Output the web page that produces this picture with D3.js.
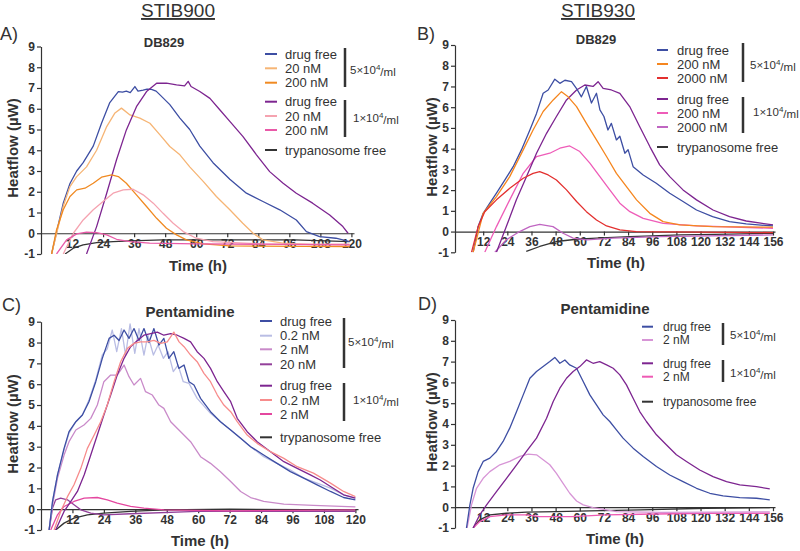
<!DOCTYPE html>
<html>
<head>
<meta charset="utf-8">
<title>Heatflow of trypanosome cultures</title>
<script src="https://d3js.org/d3.v7.min.js"></script>
<style>
  body { margin: 0; background: #fff; }
  svg { font-family: "Liberation Sans", Arial, sans-serif; }
  .axis path, .axis line { stroke: #333; stroke-width: 1.2; }
  .axis text { font-size: 12px; font-weight: bold; fill: #333; }
  .plot { fill: none; stroke-width: 1.3; stroke-linejoin: round; }
  .legend text { fill: #333; }
  .density { font-size: 11.5px; fill: #333; }
  .ylab, .xlab { font-size: 15px; font-weight: bold; fill: #333; }
</style>
</head>
<body>
<svg id="chart" width="800" height="551"></svg>
<script>
// ---- data: [time (h), heatflow (µW)] ----
// A) STIB900, DB829
var aFree5 = [[4.1,-1],[8.6,1.45],[11.2,2.4],[13.8,3.0],[16.3,3.4],[20.2,4.2],[23.4,5.3],[26.6,6.3],[29.9,6.83],[31.5,6.8],[33,6.85],[34.5,6.78],[36.3,7.07],[37.5,6.85],[39.5,6.9],[41,6.95],[42.7,6.93],[44.5,6.85],[46,6.67],[49.8,6.2],[53.7,5.55],[57.5,5.0],[61.4,4.2],[66.5,3.4],[73,2.6],[79.4,1.93],[85.8,1.53],[92.3,1.13],[98.7,0.64],[102.6,0.08],[107.7,-0.16],[114,-0.24],[119.3,-0.4]];
var a20nm5 = [[4.1,-1],[8.6,1.3],[11.2,2.25],[13.8,2.73],[17.6,3.2],[21.5,4.0],[25.4,5.14],[28.6,5.8],[31.1,6.03],[34.4,5.7],[38.2,5.55],[42.1,5.3],[46,4.74],[49.8,4.18],[53.7,3.78],[57.5,3.2],[62.7,2.5],[67.8,1.77],[73,1.13],[78,0.48],[82,0],[85.8,-0.32],[93.5,-0.48],[106,-0.56],[119.3,-0.56]];
var a200nm5 = [[4.1,-1],[6,0.16],[8.6,1.13],[11.2,1.77],[13.8,2.09],[17,2.17],[20.2,2.41],[23.4,2.7],[27.3,2.81],[29.9,2.73],[33,2.41],[36.9,1.85],[40.8,1.29],[44.7,0.72],[48.5,0.24],[52.4,-0.08],[56.2,-0.32],[62.7,-0.51],[73,-0.61],[119.3,-0.64]];
var aFree1 = [[17.6,-1],[21.5,0.32],[25.4,1.93],[29.2,3.54],[33,4.98],[36.9,6.1],[40.8,6.83],[44.7,7.23],[48.5,7.23],[52.4,7.15],[55.5,7.1],[56.9,7.32],[58,7.07],[61.4,6.83],[65.3,6.5],[69.1,5.95],[73,5.39],[78.1,4.66],[83.3,3.78],[88.4,2.97],[93.6,2.41],[98.7,1.93],[105,1.45],[111.6,0.88],[116.7,0.32],[118.7,0]];
var a20nm1 = [[8.6,-1],[12.5,0],[16.3,0.64],[20.2,1.13],[24,1.53],[27.9,1.93],[31.8,2.09],[35.6,2.12],[39.5,1.85],[43.4,1.45],[47.2,0.96],[51.1,0.48],[55,0.08],[60,-0.24],[66.5,-0.4],[85,-0.51],[119.3,-0.53]];
var a200nm1 = [[6,-1],[9.9,-0.32],[13.8,-0.03],[17.6,0.05],[21.5,0.03],[25.4,-0.08],[29.2,-0.29],[34.4,-0.4],[42,-0.48],[60,-0.51],[119.3,-0.56]];
var aTryp = [[9.3,-1],[12.5,-0.72],[16.3,-0.56],[21.5,-0.45],[27.9,-0.4],[34.4,-0.37],[47,-0.32],[73,-0.32],[98,-0.32],[119.3,-0.4]];

// B) STIB930, DB829
var bFree5 = [[7,-1],[9.5,0.24],[12,0.88],[15.3,1.37],[18.6,1.85],[22.8,2.49],[26.9,3.13],[31,3.94],[35.2,4.9],[38.5,5.7],[41.8,6.67],[44.3,6.83],[47.6,7.35],[50.1,7.15],[52.6,7.3],[55.9,7.23],[58.4,6.9],[60.8,6.5],[63.3,7.0],[65.8,6.2],[68.3,6.67],[70,5.87],[72,5.55],[74,4.9],[75.7,5.22],[78.2,4.42],[79.9,4.6],[82.4,3.78],[84,3.95],[86.5,3.13],[91.5,2.73],[98,2.33],[104.7,1.85],[111.3,1.45],[118,1.04],[126,0.72],[134.4,0.48],[142.7,0.37],[156,0.27]];
var b200nm5 = [[7,-1],[12,0.88],[18.6,1.69],[25.2,2.65],[31.9,3.94],[36.8,4.9],[41.8,5.79],[46.8,6.35],[50.9,6.75],[54.2,6.5],[58.4,6.03],[63.3,5.22],[68.3,4.42],[73.3,3.62],[78.2,2.81],[83.2,2.17],[88.2,1.53],[94.8,0.88],[101.4,0.48],[109.7,0.32],[126,0.24],[156,0.21]];
var b2000nm5 = [[6.2,-1],[9.5,0.24],[12.8,0.96],[18.6,1.53],[25.2,2.09],[31.9,2.57],[36.8,2.81],[40.1,2.89],[44.3,2.73],[48.4,2.49],[53.4,2.01],[58.4,1.45],[63.3,0.96],[68.3,0.56],[73.3,0.27],[79.9,0.08],[88,0],[156,-0.05]];
var bFree1 = [[18.6,-1],[23.5,0.24],[28.5,1.53],[33.5,2.65],[38.5,3.78],[43.5,4.74],[48.4,5.55],[53.4,6.35],[58.4,6.83],[62.5,7.07],[66.6,7.0],[69.1,7.23],[71.6,6.91],[75.7,6.83],[79.9,6.67],[84.8,6.03],[89.8,5.06],[94.8,4.1],[99.7,3.22],[104.7,2.65],[111.3,2.01],[118,1.53],[126.2,1.04],[134.4,0.72],[142.7,0.51],[156,0.32]];
var b200nm1 = [[12.8,-1],[18.6,0.24],[25.2,1.53],[31.9,2.81],[38.5,3.62],[45.1,3.78],[50.1,4.02],[55,4.13],[60,3.86],[65,3.3],[70,2.65],[74.9,2.01],[79.9,1.37],[84.9,0.96],[91.5,0.64],[101.4,0.4],[118,0.27],[156,0.16]];
var b2000nm1 = [[17.8,-1],[23.5,-0.4],[30.1,0],[35.2,0.24],[40.1,0.35],[43,0.3],[46.7,0.24],[51.7,-0.08],[56.7,-0.32],[63.3,-0.4],[76.6,-0.32],[100,-0.24],[156,-0.16]];
var bTryp = [[33.4,-0.96],[40.1,-0.72],[48.4,-0.48],[58.4,-0.37],[68.3,-0.32],[84.8,-0.24],[110,-0.16],[135,-0.12],[156,-0.08]];

// C) STIB900, pentamidine
var cFree5 = [[3.1,-1],[4.4,0.37],[6.3,1.65],[8.8,2.92],[10.7,3.72],[13.3,4.2],[15.8,4.52],[18.3,5.16],[20.9,6.12],[23.4,7.24],[26,8.2],[27.9,8.35],[29.8,8.1],[31.7,8.6],[33.6,8.2],[35.5,8.67],[37.4,8.1],[39.3,8.67],[41.2,8.0],[43.1,8.67],[45,7.88],[46.9,8.2],[48.8,7.24],[50.7,7.56],[52.6,6.76],[54.6,6.92],[56.5,6.12],[58.4,5.96],[60.9,5.32],[64.7,4.68],[68.5,4.2],[72.4,3.8],[76.2,3.4],[80,3.0],[85,2.6],[90.1,2.2],[95.2,1.8],[100.3,1.49],[105.4,1.17],[110.5,0.85],[115.5,0.56],[120,0.45]];
var c02nm5 = [[3.1,-1],[4.4,0.37],[6.3,1.65],[8.8,2.85],[10.7,3.65],[13.3,4.2],[15.8,4.52],[18.3,5.24],[20.9,6.2],[23.4,7.4],[25.3,7.7],[27.2,8.6],[28.9,7.56],[30.7,8.67],[32.3,7.4],[34,8.9],[35.8,7.48],[37.4,8.67],[39.3,7.4],[40.8,8.35],[42.9,7.4],[44.7,7.88],[46.7,7.24],[48.5,7.56],[50.5,6.6],[52.3,6.92],[54.3,6.12],[56.5,6.04],[59.6,5.32],[64.7,4.6],[68.5,4.2],[72.4,3.8],[76.2,3.4],[80,3.0],[85,2.52],[90.1,2.2],[95.2,1.88],[100.3,1.49],[105.4,1.25],[110.5,1.01],[115.5,0.69],[120,0.53]];
var c2nm5 = [[3.1,-1],[4.4,0.21],[6.3,1.49],[8.8,2.6],[10.7,3.24],[13.3,3.8],[16.4,4.04],[19,4.36],[21.5,5.0],[24,6.12],[26.6,6.44],[29.1,6.44],[31.7,6.92],[33.6,6.36],[35.5,5.96],[38,6.28],[39.9,5.64],[42.5,5.48],[45,5.0],[46.9,4.84],[49.5,4.2],[53.3,3.72],[57.1,3.24],[60.9,2.52],[64.7,2.2],[68.5,1.8],[72.4,1.33],[76.2,0.85],[80,0.56],[85,0.37],[92.7,0.24],[104,0.18],[120,0.11]];
var c20nm5 = [[3.1,-1],[4.4,0.05],[5.6,0.45],[7.5,0.53],[10.1,0.45],[12.6,0.21],[15.2,-0.03],[19,-0.19],[24,-0.27],[34.2,-0.22],[59.6,-0.11],[120,-0.11]];
var cFree1 = [[5.6,-1],[8.8,-0.11],[11.4,0.37],[13.9,0.85],[16.5,1.65],[19,2.6],[21.5,3.56],[24,4.52],[26.6,5.48],[29.1,6.44],[31.7,7.24],[34.2,7.8],[36.8,8.1],[39.3,8.35],[41.9,8.43],[44.4,8.5],[46.9,8.35],[49.5,8.43],[52,8.35],[54.6,8.2],[57.1,8.03],[59.6,7.56],[62.2,7.24],[64.7,6.76],[67.3,6.12],[69.8,5.64],[72.4,5.16],[74.9,4.36],[78.7,3.72],[82.5,3.24],[87.6,2.76],[92.7,2.28],[97.8,1.96],[102.8,1.65],[106.6,1.4],[110.5,1.09],[115.5,0.69],[120,0.53]];
var c02nm1 = [[5,-1],[7.5,-0.11],[10.1,0.6],[12.6,1.17],[15.2,1.96],[17.7,2.92],[20.3,3.56],[22.8,4.2],[25.3,5.0],[27.9,6.12],[30.4,7.08],[33,7.72],[35.5,7.96],[38,8.03],[40.6,8.03],[43.1,8.1],[45.7,7.96],[48.2,8.03],[50.7,8.5],[52.7,8.03],[54.6,7.8],[57.1,7.4],[59.6,7.08],[62.2,6.52],[64.7,6.12],[67.3,5.48],[69.8,5.0],[72.4,4.68],[74.9,4.2],[78.7,3.56],[82.5,3.16],[87.6,2.76],[92.7,2.44],[97.8,2.04],[104,1.73],[110.5,1.25],[115.5,0.85],[120,0.6]];
var c2nm1 = [[3.7,-1],[6.3,-0.27],[8.8,0.13],[12.6,0.37],[16.5,0.53],[21.5,0.56],[25.3,0.45],[29.1,0.29],[34.2,0.13],[39.3,0.05],[47,-0.03],[72,-0.08],[120,-0.03]];
var cTryp = [[5.6,-1],[8.8,-0.67],[12.6,-0.43],[17.7,-0.27],[24,-0.19],[34.2,-0.11],[47,-0.03],[72,0],[120,-0.03]];

// D) STIB930, pentamidine
var dFree5 = [[3.7,-1],[5.4,0.11],[7,0.91],[9.5,1.71],[12,2.2],[15.3,2.36],[18.6,2.68],[21.9,3.16],[25.2,3.8],[28.6,4.6],[31.9,5.4],[35.2,6.2],[38.5,6.52],[41.8,6.76],[45.1,7.0],[47.6,7.2],[50.1,6.92],[52.6,7.08],[55,6.84],[58.4,6.68],[61.7,6.04],[65,5.4],[68.3,4.92],[71.6,4.44],[74.9,4.12],[78.2,3.72],[81.5,3.32],[86.5,2.84],[91.5,2.44],[98.1,1.96],[104.7,1.55],[111.3,1.23],[118,0.91],[124.6,0.67],[131.2,0.54],[139.5,0.46],[147.8,0.43],[154.4,0.35]];
var d2nm5 = [[4,-1],[6.2,0.11],[8.7,0.91],[12,1.39],[15.3,1.71],[20.3,2.04],[25.2,2.2],[30.2,2.44],[34.4,2.55],[38.5,2.52],[41.8,2.28],[45.1,2.04],[48.4,1.63],[51.7,1.15],[55,0.67],[58.4,0.3],[61.7,0.11],[66.6,-0.02],[73.3,-0.13],[78.2,-0.21],[100,-0.25],[154.4,-0.22]];
var dFree1 = [[7,-1],[10.3,-0.37],[13.7,0.11],[18.6,0.75],[23.6,1.39],[28.6,2.04],[33.5,2.68],[38.5,3.32],[43.5,4.28],[46.8,5.08],[50.1,5.72],[53.4,6.2],[56.7,6.52],[60,6.76],[63.3,7.08],[66.6,6.92],[69.9,7.0],[73.3,6.84],[76.6,6.68],[79.9,6.36],[83.2,5.88],[86.5,5.24],[89.8,4.6],[93.1,4.12],[98.1,3.48],[103,3.0],[108,2.52],[113,2.2],[119.6,1.79],[126.2,1.47],[132.9,1.23],[139.5,1.07],[147.8,0.99],[154.4,0.88]];
var d2nm1 = [[7,-1],[10.3,-0.69],[15.3,-0.45],[23.6,-0.37],[33.5,-0.37],[40,-0.45],[56,-0.45],[73,-0.37],[90,-0.34],[123,-0.29],[154.4,-0.29]];
var dTryp = [[7,-1],[10.3,-0.61],[15.3,-0.37],[23.6,-0.29],[33.5,-0.24],[48.4,-0.21],[65,-0.18],[90,-0.13],[123,-0.05],[154.4,-0.02]];

// tick labels
var yTicks = [-1, 0, 1, 2, 3, 4, 5, 6, 7, 8, 9];
var xTicks120 = [12, 24, 36, 48, 60, 72, 84, 96, 108, 120];
var xTicks156 = [12, 24, 36, 48, 60, 72, 84, 96, 108, 120, 132, 144, 156];

// legend labels
var legendA = ["drug free", "20 nM", "200 nM", "drug free", "20 nM", "200 nM", "trypanosome free"];
var legendB = ["drug free", "200 nM", "2000 nM", "drug free", "200 nM", "2000 nM", "trypanosome free"];
var legendC = ["drug free", "0.2 nM", "2 nM", "20 nM", "drug free", "0.2 nM", "2 nM", "trypanosome free"];
var legendD = ["drug free", "2 nM", "drug free", "2 nM", "trypanosome free"];

// colours
var blue = "#3d4ea3", purple = "#7d2590", black = "#333333";

var panels = [
  { letter: "A)", strain: "STIB900", drug: "DB829",
    series: [aFree5, a20nm5, a200nm5, aFree1, a20nm1, a200nm1, aTryp],
    colors: [blue, "#f6b575", "#f08a22", purple, "#f5a3b0", "#e95aa8", black],
    drawOrder: [6, 0, 1, 3, 2, 4, 5],
    labels: legendA, ticks: xTicks120,
    xDomain: [0, 121], xRange: [41, 354], yRange: [254, 46.5],
    letterPos: [0, 40], strainPos: [178, 17], drugPos: [164, 47], drugSize: 13,
    ylabPos: [12.5, 148], xlabPos: [198, 271],
    lgLine: [265, 277], lgText: 285, lgSize: 13, rows: [54, 68.3, 82.7, 101.7, 116, 130, 150],
    bars: [[345, 48, 87, "5", 350, 70], [345, 100, 137, "1", 353, 118]] },
  { letter: "B)", strain: "STIB930", drug: "DB829",
    series: [bFree5, b200nm5, b2000nm5, bFree1, b200nm1, b2000nm1, bTryp],
    colors: [blue, "#f5861f", "#e3302f", purple, "#ee5cb8", "#c066c2", black],
    drawOrder: [6, 5, 4, 3, 0, 1, 2],
    labels: legendB, ticks: xTicks156,
    xDomain: [-2, 157], xRange: [455, 775], yRange: [252.3, 45],
    letterPos: [417, 40], strainPos: [598, 17], drugPos: [596, 44], drugSize: 13,
    ylabPos: [432, 147], xlabPos: [616, 268],
    lgLine: [657, 668], lgText: 677, lgSize: 13, rows: [50, 64, 78, 99, 113, 127, 147],
    bars: [[743, 43, 82, "5", 750, 65], [743, 97, 133, "1", 753, 112]] },
  { letter: "C)", strain: null, drug: "Pentamidine",
    series: [cFree5, c02nm5, c2nm5, c20nm5, cFree1, c02nm1, c2nm1, cTryp],
    colors: [blue, "#b9bde4", "#c98ac9", "#93409a", purple, "#f78c8c", "#e4479f", black],
    drawOrder: [7, 3, 6, 2, 1, 0, 4, 5],
    labels: legendC, ticks: xTicks120,
    xDomain: [0, 121], xRange: [41, 358], yRange: [530, 321.7],
    letterPos: [2, 311], strainPos: null, drugPos: [190, 317], drugSize: 15,
    ylabPos: [12.5, 424], xlabPos: [200, 546],
    lgLine: [260, 272], lgText: 280, lgSize: 13, rows: [321, 335.7, 349.3, 364.3, 385.7, 400, 414, 437.3],
    bars: [[344, 318, 368, "5", 348, 342], [344, 383, 421, "1", 353, 400]] },
  { letter: "D)", strain: null, drug: "Pentamidine",
    series: [dFree5, d2nm5, dFree1, d2nm1, dTryp],
    colors: [blue, "#d795d6", purple, "#ee5ab4", black],
    drawOrder: [4, 3, 1, 0, 2],
    labels: legendD, ticks: xTicks156,
    xDomain: [-2, 157], xRange: [455, 775], yRange: [528, 320],
    letterPos: [418, 310], strainPos: null, drugPos: [605, 314], drugSize: 15,
    ylabPos: [432, 422], xlabPos: [615, 544],
    lgLine: [642, 653], lgText: 663, lgSize: 12, rows: [326.7, 340, 363.3, 376.7, 401.7],
    bars: [[723, 323, 345, "5", 730, 335], [723, 360, 382, "1", 730, 373]] }
];

var svg = d3.select("#chart");

panels.forEach(function(p, i) {
  var g = svg.append("g");
  var x = d3.scaleLinear().domain(p.xDomain).range(p.xRange);
  var y = d3.scaleLinear().domain([-1, 9]).range(p.yRange);

  // axes
  g.append("g")
    .attr("class", "axis")
    .attr("transform", "translate(0," + y(0) + ")")
    .call(d3.axisBottom(x).tickValues(p.ticks).tickSize(4).tickSizeOuter(0).tickPadding(2));
  g.append("g")
    .attr("class", "axis")
    .attr("transform", "translate(" + p.xRange[0] + ",0)")
    .call(d3.axisLeft(y).tickValues(yTicks).tickSize(4).tickSizeOuter(0).tickPadding(2)
      .tickFormat(function(d) { return String(d); }));

  // curves
  var clipId = "clip" + i;
  g.append("clipPath").attr("id", clipId)
    .append("rect")
      .attr("x", p.xRange[0]).attr("y", p.yRange[1] - 5)
      .attr("width", p.xRange[1] - p.xRange[0] + 2)
      .attr("height", p.yRange[0] - p.yRange[1] + 5);
  var line = d3.line()
    .x(function(d) { return x(d[0]); })
    .y(function(d) { return y(d[1]); });
  var plots = g.append("g").attr("clip-path", "url(#" + clipId + ")");
  p.drawOrder.forEach(function(k) {
    plots.append("path")
      .attr("class", "plot")
      .attr("stroke", p.colors[k])
      .attr("d", line(p.series[k]));
  });

  // titles
  g.append("text").attr("x", p.letterPos[0]).attr("y", p.letterPos[1])
    .style("font-size", "18px").style("fill", "#333").text(p.letter);
  if (p.strain) {
    g.append("text").attr("x", p.strainPos[0]).attr("y", p.strainPos[1])
      .attr("text-anchor", "middle")
      .style("font-size", "19px").style("fill", "#333")
      .style("text-decoration", "underline")
      .text(p.strain);
  }
  g.append("text").attr("x", p.drugPos[0]).attr("y", p.drugPos[1])
    .attr("text-anchor", "middle")
    .style("font-size", p.drugSize + "px").style("font-weight", "bold").style("fill", "#333")
    .text(p.drug);
  g.append("text").attr("class", "ylab")
    .attr("transform", "translate(" + p.ylabPos[0] + "," + p.ylabPos[1] + ") rotate(-90)")
    .attr("text-anchor", "middle").attr("dy", "0.35em")
    .text("Heatflow (µW)");
  g.append("text").attr("class", "xlab")
    .attr("x", p.xlabPos[0]).attr("y", p.xlabPos[1])
    .attr("text-anchor", "middle")
    .text("Time (h)");

  // legend
  var lg = g.append("g").attr("class", "legend").style("font-size", p.lgSize + "px");
  p.labels.forEach(function(lab, k) {
    lg.append("line")
      .attr("x1", p.lgLine[0]).attr("x2", p.lgLine[1])
      .attr("y1", p.rows[k]).attr("y2", p.rows[k])
      .attr("stroke", p.colors[k]).attr("stroke-width", 2);
    lg.append("text")
      .attr("x", p.lgText).attr("y", p.rows[k]).attr("dy", "0.35em")
      .text(lab);
  });
  p.bars.forEach(function(b) {
    g.append("line")
      .attr("x1", b[0]).attr("x2", b[0]).attr("y1", b[1]).attr("y2", b[2])
      .attr("stroke", "#333").attr("stroke-width", 2.5);
    var t = g.append("text").attr("class", "density")
      .attr("x", b[4]).attr("y", b[5]).attr("dy", "0.35em");
    t.append("tspan").text(b[3] + "×10");
    t.append("tspan").attr("dy", "-0.45em").style("font-size", "8px").text("4");
    t.append("tspan").attr("dy", "0.45em").text("/ml");
  });
});
</script>
</body>
</html>
